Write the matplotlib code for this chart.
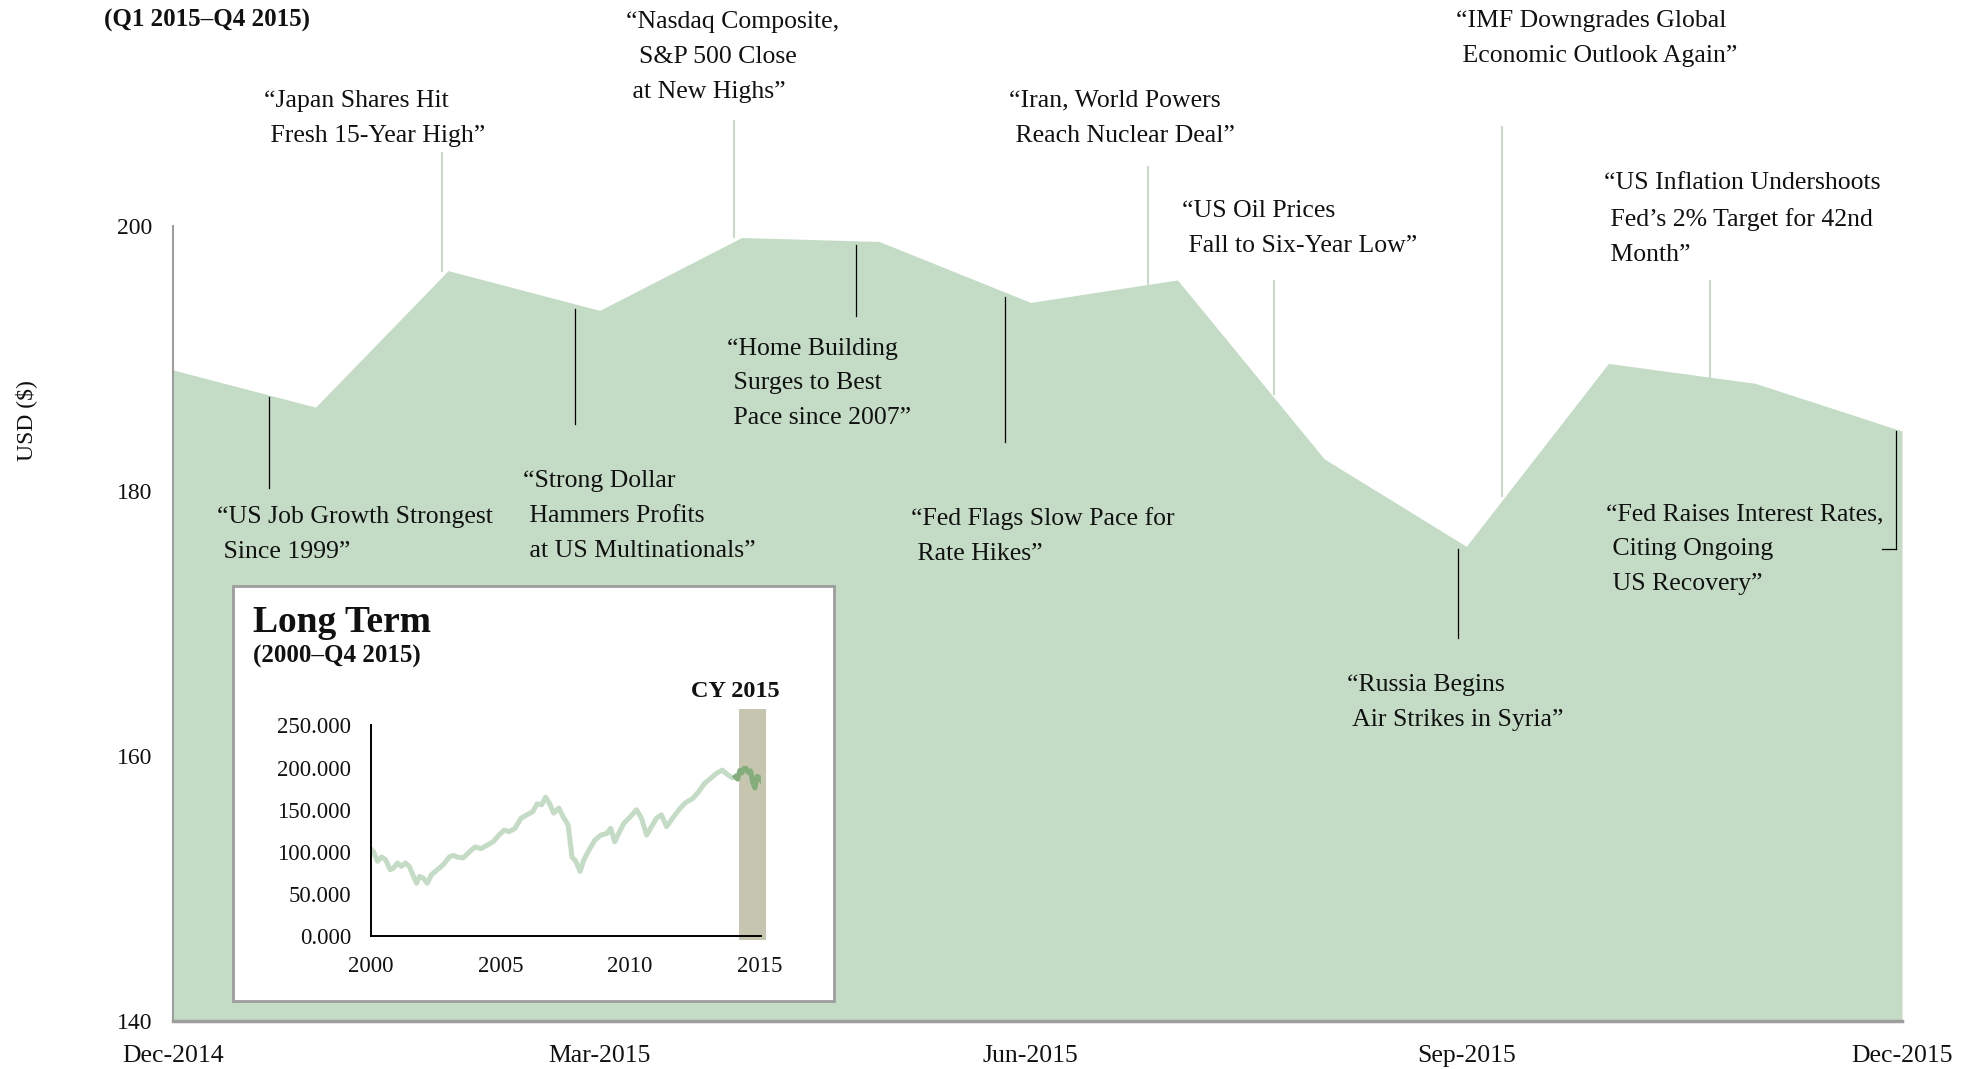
import matplotlib
matplotlib.use("Agg")
import matplotlib.pyplot as plt
import matplotlib.dates as mdates
import matplotlib.patches as patches
import pandas as pd

plt.rcParams["font.family"] = ["Liberation Serif", "DejaVu Serif"]

# month-end closes, CY 2015
dates = pd.to_datetime([
    "2014-12-31", "2015-01-30", "2015-02-27", "2015-03-31", "2015-04-30",
    "2015-05-29", "2015-06-30", "2015-07-31", "2015-08-31", "2015-09-30",
    "2015-10-30", "2015-11-30", "2015-12-31",
])
close_values = [189.1, 186.3, 196.6, 193.6, 199.1, 198.8, 194.2, 195.9,
                182.4, 175.8, 189.6, 188.1, 184.5]
x_ticks = pd.to_datetime(["2014-12-31", "2015-03-31", "2015-06-30",
                          "2015-09-30", "2015-12-31"])
y_ticks = [140, 160, 180, 200]

# long term series (inset)
long_years = [2000.00, 2000.11, 2000.26, 2000.42, 2000.57, 2000.75, 2000.88,
              2001.03, 2001.18, 2001.34, 2001.49, 2001.65, 2001.77, 2001.88,
              2002.03, 2002.18, 2002.34, 2002.57, 2002.80, 2003.03, 2003.18,
              2003.34, 2003.57, 2003.80, 2004.03, 2004.26, 2004.49, 2004.72,
              2004.95, 2005.15, 2005.34, 2005.57, 2005.80, 2006.03, 2006.26,
              2006.42, 2006.60, 2006.75, 2006.91, 2007.06, 2007.26, 2007.42,
              2007.62, 2007.77, 2007.92, 2008.08, 2008.23, 2008.42, 2008.65,
              2008.88, 2009.11, 2009.26, 2009.42, 2009.57, 2009.77, 2010.03,
              2010.26, 2010.45, 2010.65, 2010.80, 2011.03, 2011.22, 2011.42,
              2011.65, 2011.95, 2012.18, 2012.42, 2012.65, 2012.88, 2013.11,
              2013.34, 2013.57, 2013.80, 2013.95, 2014.08]
long_values = [104, 100, 89, 94, 91, 79, 81, 87, 83, 87, 83, 71, 63, 71, 69, 63,
               73, 79, 85, 94, 96, 94, 93, 100, 106, 104, 108, 112, 120, 126,
               124, 128, 140, 144, 148, 157, 156, 165, 157, 146, 152, 142, 132,
               94, 89, 77, 91, 102, 114, 120, 122, 128, 112, 122, 134, 142, 150,
               140, 120, 128, 140, 144, 130, 140, 152, 159, 163, 171, 181, 187,
               193, 197, 191, 188, 189]
inset_yticks = [0, 50, 100, 150, 200, 250]
inset_xticks = [2000, 2005, 2010, 2015]
cy_start, cy_end = 2014.23, 2015.27

# headline annotations: text, text x (days after 31-Dec-2014), text y,
# leader x (days), leader y from, leader y to, leader colour
ann_texts = [
    "\u201cUS Job Growth Strongest\n Since 1999\u201d",
    "\u201cJapan Shares Hit\n Fresh 15-Year High\u201d",
    "\u201cStrong Dollar\n Hammers Profits\n at US Multinationals\u201d",
    "\u201cNasdaq Composite,\n  S&P 500 Close\n at New Highs\u201d",
    "\u201cHome Building\n Surges to Best\n Pace since 2007\u201d",
    "\u201cIran, World Powers\n Reach Nuclear Deal\u201d",
    "\u201cFed Flags Slow Pace for\n Rate Hikes\u201d",
    "\u201cUS Oil Prices\n Fall to Six-Year Low\u201d",
    "\u201cIMF Downgrades Global\n Economic Outlook Again\u201d",
    "\u201cRussia Begins\n Air Strikes in Syria\u201d",
    "\u201cUS Inflation Undershoots\n Fed\u2019s 2% Target for 42nd\n Month\u201d",
    "\u201cFed Raises Interest Rates,\n Citing Ongoing\n US Recovery\u201d",
]
ann_text_x = [9.3, 19.1, 73.8, 95.6, 116.8, 176.5, 155.8, 212.9, 270.8, 247.9, 302.1, 302.4]
ann_text_y = [176.7, 208.1, 178.1, 212.7, 188.1, 208.1, 176.6, 199.8, 214.1, 164.0, 200.5, 175.6]
ann_line_x = [20.2, 56.8, 84.7, 118.4, 144.1, 205.7, 175.5, 232.3, 280.6, 271.3, 324.4, 363.7]
ann_line_y0 = [187.1, 205.5, 193.7, 207.9, 198.5, 204.4, 194.6, 195.8, 207.4, 175.6, 195.8, 184.5]
ann_line_y1 = [180.2, 196.6, 185.0, 199.1, 193.2, 195.6, 183.7, 187.3, 179.6, 168.9, 188.6, 175.6]
ann_line_dark = [True, False, True, False, True, False, True, False, False, True, False, True]

FILL = "#c4dcc5"
DARK_GREEN = "#84ad7c"
BAND = "#c5c5b0"
AXIS_GREY = "#9d9d9d"
TXT = "#111111"

fig = plt.figure(figsize=(19.71, 10.69), dpi=100)
ax = fig.add_axes([0.088, 0.045, 0.877, 0.744])

ax.fill_between(dates, close_values, 140, color=FILL, lw=0, zorder=1)
ax.set_xlim(dates[0], dates[-1])
ax.set_ylim(140, 200)
ax.set_xticks(x_ticks)
ax.xaxis.set_major_formatter(mdates.DateFormatter("%b-%Y"))
ax.set_yticks(y_ticks)
ax.tick_params(axis="x", length=0, labelsize=18.5, pad=17, colors=TXT)
ax.tick_params(axis="y", length=0, labelsize=17, pad=15, colors=TXT)
for side in ["top", "right"]:
    ax.spines[side].set_visible(False)
ax.spines["left"].set_color(AXIS_GREY)
ax.spines["left"].set_linewidth(1.5)
ax.spines["bottom"].set_color(AXIS_GREY)
ax.spines["bottom"].set_linewidth(2.5)
ax.set_ylabel("USD ($)", fontsize=17, color=TXT)
ax.yaxis.set_label_coords(-0.079, 0.755)

base = mdates.date2num(dates[0])
for i, txt in enumerate(ann_texts):
    ax.text(base + ann_text_x[i], ann_text_y[i], txt, ha="left", va="center",
            fontsize=18.5, linespacing=1.75, color=TXT, zorder=5)
    col = "black" if ann_line_dark[i] else FILL
    lw = 0.9 if ann_line_dark[i] else 1.4
    ax.plot([base + ann_line_x[i]] * 2, [ann_line_y0[i], ann_line_y1[i]],
            color=col, lw=lw, clip_on=False, zorder=4)
# small bracket tick for the last headline
ax.plot([base + 360.8, base + ann_line_x[-1]], [ann_line_y1[-1]] * 2,
        color="black", lw=0.9, clip_on=False, zorder=4)

fig.text(0.053, 0.981, "(Q1 2015\u2013Q4 2015)", fontsize=18,
         fontweight="bold", ha="left", va="center", color=TXT)

# inset box
box = patches.Rectangle((0.118, 0.064), 0.3049, 0.388, transform=fig.transFigure,
                        facecolor="white", edgecolor=AXIS_GREY, linewidth=2, zorder=2)
fig.add_artist(box)
fig.text(0.1282, 0.418, "Long Term", fontsize=27, fontweight="bold",
         ha="left", va="center", color=TXT, zorder=4)
fig.text(0.1282, 0.3863, "(2000\u2013Q4 2015)", fontsize=18, fontweight="bold",
         ha="left", va="center", color=TXT, zorder=4)
fig.text(0.3954, 0.3533, "CY 2015", fontsize=17.5, fontweight="bold",
         ha="right", va="center", color=TXT, zorder=4)

axi = fig.add_axes([0.1881, 0.124, 0.1978, 0.1975], zorder=3)
axi.set_facecolor("none")
axi.add_patch(patches.Rectangle((cy_start, -4), cy_end - cy_start, 273,
                                facecolor=BAND, edgecolor="none", clip_on=False, zorder=1))
axi.plot(long_years, long_values, color=FILL, lw=3.6, solid_joinstyle="round", zorder=2)
cy_years = [long_years[-1] + i / 12 for i in range(len(close_values))]
axi.plot(cy_years, close_values, color=DARK_GREEN, lw=3.6, zorder=3)
axi.set_xlim(2000, 2015.05)
axi.set_ylim(0, 250)
axi.set_yticks(inset_yticks)
axi.set_yticklabels([f"{v:.3f}" for v in inset_yticks])
axi.set_xticks(inset_xticks)
axi.tick_params(length=0, labelsize=16.5, colors=TXT)
axi.tick_params(axis="y", pad=14)
axi.tick_params(axis="x", pad=14)
for side in ["top", "right"]:
    axi.spines[side].set_visible(False)
for side in ["left", "bottom"]:
    axi.spines[side].set_linewidth(1.4)
    axi.spines[side].set_color("black")

fig.savefig("out.png", dpi=100)
